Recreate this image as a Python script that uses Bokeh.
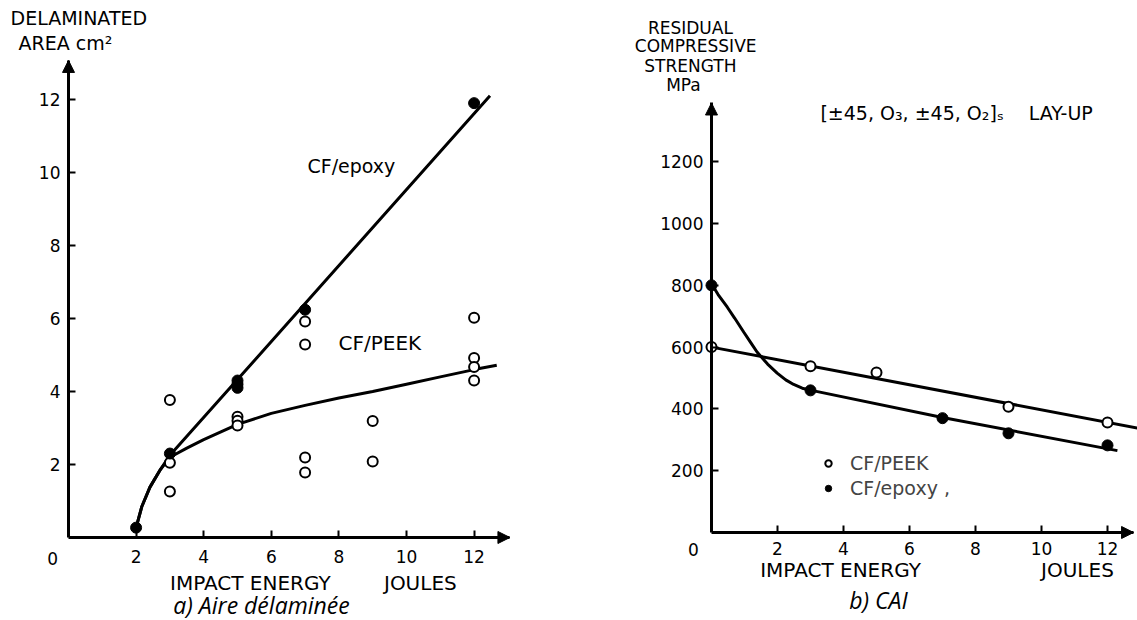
from bokeh.plotting import figure
from bokeh.layouts import row
from bokeh.models import (FixedTicker, Label, Arrow, NormalHead, Legend, LegendItem,
                          Range1d, LinearAxis)
from bokeh.embed import file_html
from bokeh.resources import INLINE

# ---------------- data : a) delaminated area ----------------
a_ticks = [2, 4, 6, 8, 10, 12]
a_epoxy_x = [2, 3, 5, 5, 7, 12]
a_epoxy_y = [0.27, 2.3, 4.3, 4.1, 6.24, 11.9]
a_peek_x = [3, 3, 3, 5, 5, 5, 5, 7, 7, 7, 7, 9, 9, 12, 12, 12, 12]
a_peek_y = [3.77, 2.05, 1.26, 4.2, 3.31, 3.2, 3.07, 5.92, 5.29, 2.19, 1.78,
            3.19, 2.08, 6.02, 4.92, 4.67, 4.30]
# fitted curves
a_epoxy_fit_x = [2.0, 2.17, 2.41, 2.71, 3.0, 12.47]
a_epoxy_fit_y = [0.27, 0.85, 1.38, 1.85, 2.25, 12.1]
a_peek_fit_x = [2.0, 2.17, 2.41, 2.71, 3.0, 3.5, 4.0, 5.0, 6.0, 7.0, 8.0, 9.0, 10.0, 11.0, 12.0, 12.67]
a_peek_fit_y = [0.27, 0.85, 1.38, 1.85, 2.2, 2.45, 2.68, 3.1, 3.4, 3.62, 3.82, 4.0, 4.2, 4.4, 4.6, 4.72]

# ---------------- data : b) CAI ----------------
b_xticks = [2, 4, 6, 8, 10, 12]
b_yticks = [200, 400, 600, 800, 1000, 1200]
b_peek_x = [0, 3, 5, 9, 12]
b_peek_y = [600, 538, 518, 407, 356]
b_epoxy_x = [0, 3, 7, 9, 12]
b_epoxy_y = [800, 460, 370, 321, 282]
b_peek_fit_x = [0, 13.0]
b_peek_fit_y = [600, 336]
b_epoxy_fit_x = [0.0, 0.2, 0.48, 0.7, 0.98, 1.2, 1.38, 1.7, 1.99, 2.25, 2.49, 2.75, 3.03, 7.0, 12.3]
b_epoxy_fit_y = [805, 770, 729, 694, 648, 613, 584, 545, 516, 494, 479, 467, 460, 372, 265]

FONT = "DejaVu Sans"
FS = "17px"


def make_axes(p, xt, yt, xb, yb, xstand, ystand):
    xa = LinearAxis(fixed_location=0, ticker=FixedTicker(ticks=xt), bounds=xb)
    ya = LinearAxis(fixed_location=0, ticker=FixedTicker(ticks=yt), bounds=yb)
    for ax in (xa, ya):
        ax.axis_line_width = 3
        ax.axis_line_color = "black"
        ax.major_tick_in = 7
        ax.major_tick_out = 0
        ax.major_tick_line_width = 2
        ax.minor_tick_line_color = None
        ax.major_label_text_font = FONT
        ax.major_label_text_font_size = FS
        ax.major_label_text_color = "black"
    xa.major_label_standoff = xstand
    ya.major_label_standoff = ystand
    p.add_layout(xa, "below")
    p.add_layout(ya, "left")
    p.grid.visible = False
    p.outline_line_color = None


def lab(p, x, y, text, align="left", size=FS, font=FONT, style="normal"):
    p.add_layout(Label(x=x, y=y, text=text, text_align=align, text_baseline="middle",
                       text_font=font, text_font_size=size, text_font_style=style,
                       text_color="black"))


def arrows(p, xend, yend, dx, dy):
    p.add_layout(Arrow(x_start=0, y_start=yend - dy, x_end=0, y_end=yend, line_width=3,
                       end=NormalHead(size=12, fill_color="black", line_color="black")))
    p.add_layout(Arrow(x_start=xend - dx, y_start=0, x_end=xend, y_end=0, line_width=3,
                       end=NormalHead(size=12, fill_color="black", line_color="black")))


def fig(w, xr, yr):
    return figure(width=w, height=620, output_backend="svg", toolbar_location=None,
                  title=None, x_axis_location=None, y_axis_location=None,
                  x_range=Range1d(*xr), y_range=Range1d(*yr),
                  min_border=0, min_border_left=0, min_border_right=0,
                  min_border_top=0, min_border_bottom=0)


# ---------------- panel a ----------------
p1 = fig(568, (-2.012, 14.793), (-2.274, 14.712))
make_axes(p1, a_ticks, a_ticks, (0, 13.06), (0, 13.07), 13, 8)
p1.line(a_epoxy_fit_x, a_epoxy_fit_y, line_width=3, color="black")
p1.line(a_peek_fit_x, a_peek_fit_y, line_width=3, color="black")
p1.scatter(a_peek_x, a_peek_y, marker="circle", size=10, fill_color="white",
           line_color="black", line_width=2)
p1.scatter(a_epoxy_x, a_epoxy_y, marker="circle", size=11, fill_color="black",
           line_color="black")
arrows(p1, 13.06, 13.07, 0.5, 0.5)
lab(p1, -1.716, 14.22, "DELAMINATED", size="19px")
lab(p1, -1.479, 13.56, "AREA cm²", size="19px")
lab(p1, -0.47, -0.575, "0", align="center")
lab(p1, 5.38, -1.26, "IMPACT ENERGY", align="center", size="20px")
lab(p1, 10.41, -1.26, "JOULES", align="center", size="20px")
lab(p1, 5.71, -1.85, "a) Aire délaminée", align="center", size="23px", font="Open Sans", style="italic")
lab(p1, 7.07, 10.19, "CF/epoxy", size="19px")
lab(p1, 7.99, 5.34, "CF/PEEK", size="20px")

# ---------------- panel b ----------------
p2 = fig(569, (-4.333, 12.909), (-284.8, 1721.7))
make_axes(p2, b_xticks, b_yticks, (0, 12.79), (0, 1390), 10, 8)
p2.line(b_peek_fit_x, b_peek_fit_y, line_width=3, color="black")
p2.line(b_epoxy_fit_x, b_epoxy_fit_y, line_width=3, color="black")
r_peek = p2.scatter(b_peek_x, b_peek_y, marker="circle", size=10, fill_color="white",
                    line_color="black", line_width=2)
r_epoxy = p2.scatter(b_epoxy_x, b_epoxy_y, marker="circle", size=11, fill_color="black",
                     line_color="black")
arrows(p2, 12.79, 1390, 0.5, 20)
legend = Legend(items=[LegendItem(label="CF/PEEK", renderers=[r_peek]),
                       LegendItem(label="CF/epoxy ,", renderers=[r_epoxy])],
                location=(252, 121), border_line_color=None, background_fill_alpha=0,
                label_text_font=FONT, label_text_font_size="19px", glyph_width=16, glyph_height=16,
                spacing=3, padding=0, margin=0, label_standoff=14)
p2.add_layout(legend)
lab(p2, -0.64, 1634, "RESIDUAL", align="center")
lab(p2, -0.48, 1576, "COMPRESSIVE", align="center")
lab(p2, -0.64, 1511, "STRENGTH", align="center")
lab(p2, -0.85, 1447, "MPa", align="center")
lab(p2, 3.30, 1359, "[±45, O₃, ±45, O₂]ₛ", size="19px")
lab(p2, 9.61, 1359, "LAY-UP", size="19px")
lab(p2, -0.545, -55, "0", align="center")
lab(p2, 3.91, -122, "IMPACT ENERGY", align="center", size="20px")
lab(p2, 11.09, -122, "JOULES", align="center", size="20px")
lab(p2, 5.06, -220, "b) CAI", align="center", size="23px", font="Open Sans", style="italic")

layout = row(p1, p2)
open("out.html", "w").write(file_html(layout, INLINE))
